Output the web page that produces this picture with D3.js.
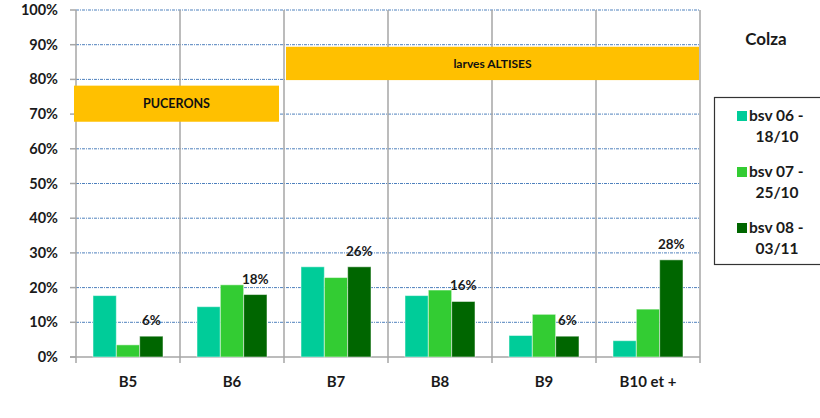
<!DOCTYPE html>
<html>
<head>
<meta charset="utf-8">
<script src="https://cdn.jsdelivr.net/npm/d3@7/dist/d3.min.js"></script>
<style>
  body { margin: 0; background: #fff; }
  svg { font-family: Lato, "Open Sans", sans-serif; font-weight: 700; }
</style>
</head>
<body>
<svg id="chart" width="820" height="418"></svg>
<script>
const categories = ["B5", "B6", "B7", "B8", "B9", "B10 et +"];
const series = ["bsv 06 - 18/10", "bsv 07 - 25/10", "bsv 08 - 03/11"];
const legendLines = [["bsv 06 -", "18/10"], ["bsv 07 -", "25/10"], ["bsv 08 -", "03/11"]];
const colors = ["#00CC99", "#33CC33", "#006600"];
const bsv06 = [17.7, 14.5, 26, 17.7, 6.2, 4.7];
const bsv07 = [3.5, 20.8, 22.9, 19.3, 12.3, 13.8];
const bsv08 = [6, 18, 26, 16, 6, 28];
const yTicks = [0, 10, 20, 30, 40, 50, 60, 70, 80, 90, 100];
// pest periods: first category, last category, low %, high %
const bands = [
  { label: "PUCERONS", from: "B5", to: "B6", lo: 67.8, hi: 78.2 },
  { label: "larves ALTISES", from: "B7", to: "B10 et +", lo: 79.8, hi: 89.4 }
];

const values = [bsv06, bsv07, bsv08];
const svg = d3.select("#chart");
const mLeft = 76, mRight = 700, mTop = 10, mBottom = 357;

const x0 = d3.scaleBand().domain(categories).range([mLeft, mRight]);
const x1 = d3.scaleBand().domain(series).range([17, x0.bandwidth() - 17]);
const y = d3.scaleLinear().domain([0, 100]).range([mBottom, mTop]);

// horizontal gridlines
svg.append("g").selectAll("line")
  .data(yTicks.filter(d => d > 0))
  .join("line")
  .attr("x1", mLeft).attr("x2", mRight)
  .attr("y1", d => y(d)).attr("y2", d => y(d))
  .attr("stroke", "#4F81BD").attr("stroke-width", 1)
  .attr("stroke-dasharray", "3,1,1,1");

// vertical category separators
const seps = categories.map(c => x0(c)).concat([mRight]);
svg.append("g").selectAll("line")
  .data(seps)
  .join("line")
  .attr("x1", d => d).attr("x2", d => d)
  .attr("y1", mTop).attr("y2", mBottom + 6)
  .attr("stroke", "#A6A6A6").attr("stroke-width", 1.5);

// y axis ticks + labels
const yAxis = svg.append("g");
yAxis.selectAll("line")
  .data(yTicks)
  .join("line")
  .attr("x1", mLeft - 6).attr("x2", mLeft)
  .attr("y1", d => y(d)).attr("y2", d => y(d))
  .attr("stroke", "#A6A6A6").attr("stroke-width", 1.5);
yAxis.selectAll("text")
  .data(yTicks)
  .join("text")
  .attr("x", 58).attr("y", d => y(d))
  .attr("dy", "0.35em")
  .attr("text-anchor", "end")
  .attr("font-size", 14.5)
  .attr("fill", "#1a1a1a")
  .text(d => d + "%");

// bottom axis line
svg.append("line")
  .attr("x1", mLeft - 6).attr("x2", mRight)
  .attr("y1", mBottom).attr("y2", mBottom)
  .attr("stroke", "#A6A6A6").attr("stroke-width", 1.5);

// orange bands
bands.forEach(b => {
  const first = b.from === "B5";
  const bx = x0(b.from) + (first ? -2 : 2);
  const bx2 = x0(b.to) + x0.bandwidth() - (first ? 5 : 1);
  svg.append("rect")
    .attr("x", bx).attr("y", y(b.hi))
    .attr("width", bx2 - bx).attr("height", y(b.lo) - y(b.hi))
    .attr("fill", "#FFC000");
  svg.append("text")
    .attr("x", (bx + bx2) / 2).attr("y", (y(b.hi) + y(b.lo)) / 2)
    .attr("dy", "0.35em").attr("text-anchor", "middle")
    .attr("font-size", first ? 12.5 : 12).attr("fill", "#111")
    .text(b.label);
});

// bars
const groups = svg.append("g").selectAll("g")
  .data(categories)
  .join("g")
  .attr("transform", c => `translate(${x0(c)},0)`);

groups.selectAll("rect")
  .data((c, i) => series.map((s, j) => ({ s, j, v: values[j][i] })))
  .join("rect")
  .attr("x", d => x1(d.s))
  .attr("width", x1.bandwidth())
  .attr("y", d => y(d.v))
  .attr("height", d => mBottom - y(d.v))
  .attr("fill", d => colors[d.j])
  .attr("stroke", "rgba(255,255,255,0.5)")
  .attr("stroke-width", 1);

// data labels on last series
groups.append("text")
  .attr("x", () => x1(series[2]) + x1.bandwidth() / 2)
  .attr("y", (c, i) => y(bsv08[i]) - 11)
  .attr("text-anchor", "middle")
  .attr("font-size", 13.5)
  .attr("fill", "#1a1a1a")
  .text((c, i) => Math.round(bsv08[i]) + "%");

// x labels
svg.append("g").selectAll("text")
  .data(categories)
  .join("text")
  .attr("x", c => x0(c) + x0.bandwidth() / 2)
  .attr("y", 382).attr("dy", "0.35em")
  .attr("text-anchor", "middle")
  .attr("font-size", 15)
  .attr("fill", "#1a1a1a")
  .text(c => c);

// title
svg.append("text")
  .attr("x", 766).attr("y", 39).attr("dy", "0.35em")
  .attr("text-anchor", "middle").attr("font-size", 17)
  .attr("fill", "#1a1a1a")
  .text("Colza");

// legend
const lg = svg.append("g");
lg.append("rect")
  .attr("x", 714.5).attr("y", 97.5).attr("width", 120).attr("height", 167)
  .attr("fill", "#fff").attr("stroke", "#333").attr("stroke-width", 1.2);
legendLines.forEach((ln, i) => {
  const cy = 116 + i * 56;
  lg.append("rect")
    .attr("x", 737).attr("y", cy - 5).attr("width", 10).attr("height", 10)
    .attr("fill", colors[i]);
  lg.append("text")
    .attr("x", 749).attr("y", cy).attr("dy", "0.35em")
    .attr("font-size", 15.5).attr("fill", "#1a1a1a").text(ln[0]);
  lg.append("text")
    .attr("x", 777).attr("y", cy + 21).attr("dy", "0.35em")
    .attr("text-anchor", "middle")
    .attr("font-size", 15.5).attr("fill", "#1a1a1a").text(ln[1]);
});
</script>
</body>
</html>
